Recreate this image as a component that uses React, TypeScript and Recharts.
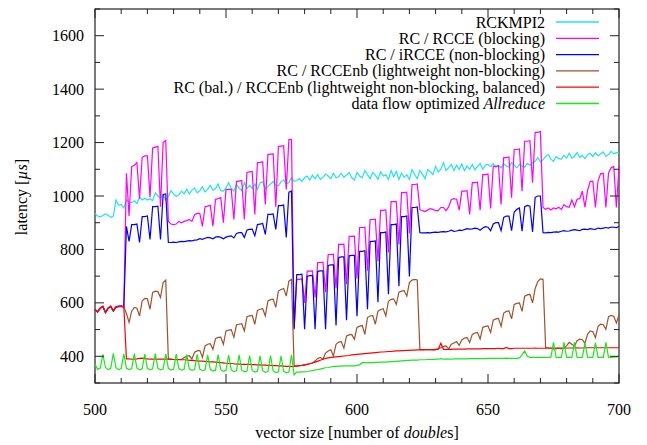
import React from "react";
import { LineChart, Line, XAxis, YAxis, Customized } from "recharts";

// vector sizes 500..700, one measurement per size
const sizes: number[] = Array.from({ length: 201 }, (_, i) => 500 + i);

const xTicks = [500, 510, 520, 530, 540, 550, 560, 570, 580, 590, 600, 610, 620, 630, 640, 650, 660, 670, 680, 690, 700];
const xLabels = [500, 550, 600, 650, 700];
const yTicks = [300, 400, 500, 600, 700, 800, 900, 1000, 1100, 1200, 1300, 1400, 1500, 1600, 1700];
const yLabels = [400, 600, 800, 1000, 1200, 1400, 1600];

const rckmpi = [
  935, 925, 922, 927, 933, 928, 920, 925, 985, 965,
  968, 955, 985, 978, 975, 982, 972, 995, 985, 992,
  985, 990, 982, 1012, 1000, 993, 1005, 985, 998, 1020,
  1008, 998, 1005, 1018, 1008, 1025, 1008, 1022, 1030, 1012,
  1020, 1035, 1015, 1025, 1040, 1022, 1028, 1045, 1020, 1018,
  1030, 1050, 1028, 1018, 1043, 1030, 1020, 1050, 1028, 1040,
  1028, 1045, 1025, 1050, 1053, 1028, 1035, 1045, 1054, 1040,
  1038, 1054, 1060, 1045, 1050, 1069, 1055, 1058, 1065, 1055,
  1069, 1075, 1060, 1078, 1065, 1080, 1062, 1070, 1082, 1075,
  1065, 1085, 1068, 1072, 1085, 1070, 1078, 1088, 1068, 1060,
  1088, 1075, 1068, 1095, 1080, 1065, 1088, 1078, 1062, 1090,
  1075, 1080, 1062, 1095, 1072, 1092, 1062, 1086, 1070, 1080,
  1062, 1099, 1080, 1065, 1095, 1082, 1065, 1099, 1090, 1080,
  1111, 1090, 1100, 1125, 1095, 1106, 1118, 1095, 1115, 1100,
  1120, 1095, 1112, 1100, 1118, 1098, 1110, 1122, 1100, 1115,
  1118, 1110, 1122, 1108, 1115, 1105, 1120, 1112, 1108, 1125,
  1115, 1105, 1118, 1112, 1108, 1122, 1115, 1125, 1130, 1144,
  1128, 1135, 1148, 1155, 1138, 1130, 1148, 1140, 1138, 1152,
  1142, 1160, 1142, 1148, 1162, 1145, 1152, 1140, 1155, 1160,
  1148, 1162, 1150, 1158, 1165, 1148, 1155, 1167, 1158, 1162,
  1162,
];

const rcce = [
  576, 567, 581, 588, 565, 581, 588, 571, 586, 588,
  589, 586, 1085, 925, 1110, 1115, 1125, 990, 1145, 1150,
  1150, 995, 1180, 1183, 1186, 960, 1200, 1208, 905, 895,
  893, 895, 905, 900, 905, 908, 912, 905, 930, 935,
  935, 886, 960, 962, 965, 887, 987, 990, 994, 900,
  1024, 1025, 1025, 912, 1054, 1056, 1058, 912, 1088, 1090,
  1092, 931, 1125, 1126, 1128, 968, 1155, 1157, 1158, 960,
  1185, 1187, 1188, 1024, 1211, 1212, 505, 688, 688, 690,
  600, 719, 719, 720, 620, 751, 751, 752, 640, 781,
  781, 782, 655, 819, 819, 820, 670, 849, 849, 850,
  690, 882, 882, 883, 720, 912, 912, 913, 756, 946,
  946, 948, 789, 979, 979, 980, 819, 1013, 1013, 1014,
  860, 1043, 1043, 1045, 949, 945, 942, 948, 953, 950,
  945, 945, 957, 957, 945, 960, 987, 990, 988, 947,
  1018, 1018, 1020, 931, 1050, 1050, 1052, 947, 1080, 1080,
  1082, 953, 1111, 1111, 1113, 968, 1144, 1144, 1146, 994,
  1174, 1174, 1176, 1018, 1205, 1205, 1207, 1050, 1238, 1238,
  1241, 957, 950, 955, 948, 955, 952, 958, 950, 968,
  960, 958, 985, 960, 988, 990, 1018, 958, 1020, 1055,
  1056, 957, 1057, 1084, 1085, 957, 1086, 1106, 1111, 957,
  1110,
];

const ircce = [
  574, 565, 579, 586, 563, 579, 586, 569, 584, 586,
  587, 584, 886, 830, 893, 893, 895, 826, 923, 923,
  925, 837, 960, 960, 962, 837, 1006, 1008, 826, 826,
  827, 826, 828, 830, 829, 831, 833, 832, 835, 836,
  840, 838, 842, 845, 843, 840, 846, 848, 845, 840,
  846, 849, 851, 843, 860, 863, 863, 845, 873, 875,
  876, 851, 893, 895, 897, 856, 931, 931, 933, 875,
  964, 964, 966, 845, 1014, 1018, 501, 706, 706, 707,
  501, 700, 702, 703, 501, 718, 720, 720, 501, 740,
  742, 742, 515, 770, 772, 772, 535, 776, 778, 778,
  550, 793, 793, 795, 576, 830, 830, 832, 602, 863,
  863, 865, 632, 893, 893, 895, 662, 923, 923, 925,
  699, 957, 957, 959, 863, 862, 862, 863, 862, 864,
  865, 864, 866, 867, 866, 868, 872, 868, 869, 872,
  871, 874, 878, 876, 877, 880, 878, 872, 880, 885,
  883, 870, 895, 900, 900, 870, 920, 925, 925, 870,
  940, 950, 955, 868, 960, 965, 962, 865, 995, 1000,
  1000, 863, 862, 864, 863, 865, 866, 865, 868, 870,
  868, 869, 872, 874, 872, 870, 875, 876, 874, 878,
  876, 875, 880, 878, 880, 882, 880, 884, 883, 882,
  886,
];

const rccenb = [
  575, 566, 580, 587, 564, 580, 587, 570, 585, 587,
  588, 585, 560, 527, 569, 583, 580, 551, 607, 617,
  615, 576, 639, 644, 642, 620, 676, 685, 390, 388,
  388, 387, 387, 388, 395, 400, 402, 390, 415, 420,
  422, 396, 439, 445, 447, 426, 466, 471, 472, 445,
  495, 498, 500, 471, 518, 520, 522, 495, 548, 551,
  553, 520, 572, 576, 578, 551, 607, 612, 614, 583,
  644, 650, 654, 625, 681, 688, 365, 364, 365, 366,
  368, 370, 372, 375, 382, 392, 396, 389, 412, 420,
  424, 401, 445, 453, 455, 430, 476, 480, 482, 464,
  508, 513, 515, 482, 545, 551, 553, 520, 569, 575,
  578, 551, 606, 613, 615, 594, 640, 644, 646, 625,
  676, 685, 688, 686, 426, 425, 425, 425, 425, 424,
  424, 428, 432, 437, 439, 428, 445, 450, 455, 441,
  461, 468, 470, 452, 482, 487, 489, 465, 508, 512,
  514, 489, 535, 540, 542, 512, 562, 568, 570, 540,
  594, 598, 600, 568, 625, 630, 632, 600, 654, 680,
  690, 688, 433, 430, 430, 428, 428, 430, 428, 430,
  440, 452, 445, 438, 458, 464, 462, 448, 482, 495,
  492, 470, 512, 520, 518, 501, 548, 553, 550, 525,
  555,
];

const rccenbBal = [
  575, 566, 580, 587, 564, 580, 587, 570, 585, 587,
  588, 585, 390, 390, 389, 389, 390, 392, 393, 391,
  390, 389, 389, 389, 389, 389, 389, 389, 389, 389,
  388, 388, 388, 387, 387, 386, 385, 385, 384, 383,
  382, 382, 381, 380, 379, 379, 378, 377, 376, 375,
  374, 373, 373, 372, 371, 371, 370, 370, 370, 370,
  369, 369, 368, 368, 367, 367, 366, 366, 365, 365,
  364, 364, 363, 362, 362, 361, 362, 363, 365, 366,
  368, 370, 372, 375, 378, 382, 385, 389, 392, 394,
  396, 397, 398, 399, 400, 401, 402, 403, 405, 406,
  407, 408, 409, 410, 411, 412, 413, 414, 415, 416,
  416, 417, 418, 418, 419, 420, 420, 421, 421, 422,
  422, 423, 423, 424, 424, 424, 425, 425, 425, 425,
  426, 426, 449, 426, 426, 426, 426, 427, 427, 427,
  427, 427, 428, 428, 428, 428, 428, 428, 429, 429,
  429, 429, 429, 429, 430, 429, 429, 433, 429, 429,
  430, 430, 430, 430, 430, 430, 430, 430, 431, 430,
  430, 430, 430, 431, 431, 431, 431, 431, 431, 431,
  431, 431, 431, 431, 432, 431, 431, 432, 432, 432,
  432, 432, 432, 432, 432, 432, 432, 432, 432, 432,
  432,
];

const dataflow = [
  370, 351, 356, 407, 358, 350, 355, 411, 357, 350,
  354, 409, 356, 350, 354, 410, 356, 349, 353, 408,
  355, 349, 353, 410, 356, 349, 352, 409, 355, 348,
  352, 408, 354, 348, 351, 406, 353, 347, 350, 407,
  352, 346, 349, 405, 351, 345, 348, 406, 350, 344,
  347, 404, 349, 343, 346, 405, 348, 342, 345, 403,
  347, 341, 344, 402, 346, 340, 343, 403, 345, 339,
  342, 401, 344, 338, 341, 405, 330, 341, 341, 342,
  342, 343, 345, 346, 349, 350, 352, 355, 357, 358,
  360, 362, 362, 363, 363, 364, 364, 364, 364, 364,
  366, 368, 376, 376, 376, 376, 376, 377, 377, 378,
  378, 378, 379, 380, 380, 381, 382, 383, 384, 385,
  385, 386, 386, 386, 387, 387, 387, 388, 388, 388,
  389, 389, 391, 389, 389, 389, 389, 390, 390, 390,
  390, 390, 390, 391, 391, 391, 391, 391, 391, 391,
  392, 392, 392, 392, 392, 392, 392, 393, 392, 392,
  392, 392, 394, 405, 420, 400, 396, 396, 396, 396,
  396, 396, 396, 396, 396, 452, 396, 396, 396, 452,
  396, 396, 396, 452, 396, 396, 396, 450, 396, 396,
  396, 450, 396, 396, 396, 452, 396, 396, 397, 398,
  398,
];

const SERIES = [
  { key: "rckmpi", label: "RCKMPI2", color: "#1fe3ef" },
  { key: "rcce", label: "RC / RCCE (blocking)", color: "#ff00ff" },
  { key: "ircce", label: "RC / iRCCE (non-blocking)", color: "#0000ff" },
  { key: "rccenb", label: "RC / RCCEnb (lightweight non-blocking)", color: "#a0522d" },
  { key: "rccenbBal", label: "RC (bal.) / RCCEnb (lightweight non-blocking, balanced)", color: "#ff0000" },
  { key: "dataflow", label: "data flow optimized ", color: "#18ea18" },
];

const data = sizes.map((x, i) => ({
  x,
  rckmpi: rckmpi[i],
  rcce: rcce[i],
  ircce: ircce[i],
  rccenb: rccenb[i],
  rccenbBal: rccenbBal[i],
  dataflow: dataflow[i],
}));

const W = 647;
const H = 445;
const LEFT = 95;
const RIGHT = 619;
const TOP = 9;
const BOTTOM = 383;
const FONT = "'Liberation Serif', 'Times New Roman', serif";
const AXIS = "#222";

function XTick(props: any) {
  const { x, payload } = props;
  const major = xLabels.includes(payload.value);
  const len = major ? 9 : 5;
  return (
    <g>
      <line x1={x} x2={x} y1={BOTTOM} y2={BOTTOM - len} stroke={AXIS} strokeWidth={1} />
      <line x1={x} x2={x} y1={TOP} y2={TOP + len} stroke={AXIS} strokeWidth={1} />
      {major && (
        <text x={x} y={415} textAnchor="middle" fontFamily={FONT} fontSize={16} fill="#000">
          {payload.value}
        </text>
      )}
    </g>
  );
}

function YTick(props: any) {
  const { y, payload } = props;
  const major = yLabels.includes(payload.value);
  const len = major ? 9 : 5;
  return (
    <g>
      <line x1={LEFT} x2={LEFT + len} y1={y} y2={y} stroke={AXIS} strokeWidth={1} />
      <line x1={RIGHT} x2={RIGHT - len} y1={y} y2={y} stroke={AXIS} strokeWidth={1} />
      {major && (
        <text x={84} y={y + 5.5} textAnchor="end" fontFamily={FONT} fontSize={16} fill="#000">
          {payload.value}
        </text>
      )}
    </g>
  );
}

function Frame() {
  return (
    <g fontFamily={FONT} fontSize={16} fill="#000">
      <rect x={LEFT} y={TOP} width={RIGHT - LEFT} height={BOTTOM - TOP} fill="none" stroke={AXIS} strokeWidth={1.2} />
      {SERIES.map((s, i) => {
        const cy = 22 + i * 16.3;
        return (
          <g key={s.key}>
            <text x={545} y={cy + 5.5} textAnchor="end">
              {s.label}
              {s.key === "dataflow" && <tspan fontStyle="italic">Allreduce</tspan>}
            </text>
            <line x1={556} x2={599} y1={cy} y2={cy} stroke={s.color} strokeWidth={1.3} />
          </g>
        );
      })}
      <text x={357} y={438} textAnchor="middle">
        vector size [number of <tspan fontStyle="italic">double</tspan>s]
      </text>
      <text x={27} y={197} textAnchor="middle" transform="rotate(-90, 27, 197)">
        latency [<tspan fontStyle="italic">µs</tspan>]
      </text>
    </g>
  );
}

export default function App() {
  return (
    <div style={{ position: "absolute", left: 0, top: 0, background: "#fff" }}>
      <LineChart width={W} height={H} data={data} margin={{ top: TOP, right: W - RIGHT, bottom: 0, left: 0 }}>
        <XAxis
          dataKey="x"
          type="number"
          domain={[500, 700]}
          ticks={xTicks}
          interval={0}
          height={H - BOTTOM}
          axisLine={false}
          tickLine={false}
          tick={<XTick />}
        />
        <YAxis
          type="number"
          domain={[300, 1700]}
          ticks={yTicks}
          interval={0}
          width={LEFT}
          axisLine={false}
          tickLine={false}
          tick={<YTick />}
        />
        {SERIES.map((s) => (
          <Line
            key={s.key}
            type="linear"
            dataKey={s.key}
            stroke={s.color}
            strokeWidth={1.2}
            dot={false}
            activeDot={false}
            isAnimationActive={false}
          />
        ))}
        <Customized component={<Frame />} />
      </LineChart>
    </div>
  );
}
